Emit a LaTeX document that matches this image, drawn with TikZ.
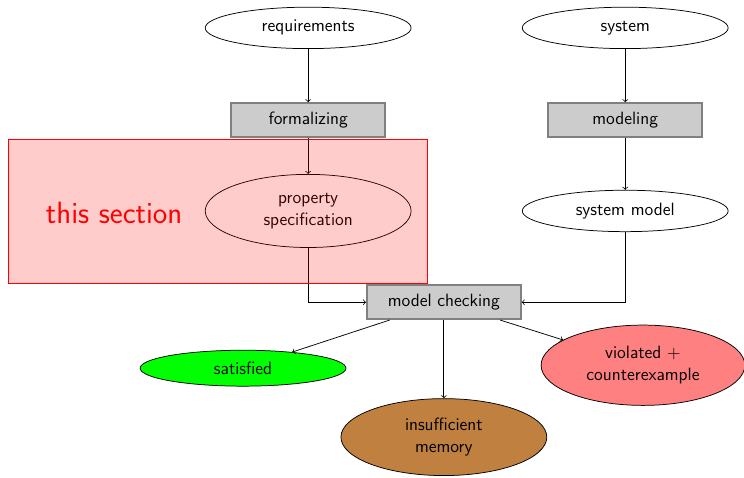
\documentclass[tikz,border=0pt]{standalone}
\usetikzlibrary{shapes.geometric}
\begin{document}
\begin{tikzpicture}[font=\sffamily\fontsize{12}{14.5}\selectfont, line width=0.5pt,
    oval/.style={draw, ellipse, align=center, minimum width=4.87cm, minimum height=0.98cm},
    stage/.style={draw=gray, line width=1.2pt, fill=black!20, minimum width=3.64cm, minimum height=0.8cm},
    flow/.style={->}]
    \useasboundingbox (0, 0) rectangle (17.6, -11.29);

    % inputs:
    \node[oval] (req) at (7.29, -0.66) {requirements};
    \node[oval] (sys) at (14.79, -0.66) {system};

    % processing steps:
    \node[stage] (formal) at (7.29, -2.84) {formalizing};
    \node[stage] (model) at (14.79, -2.84) {modeling};

    % intermediate artefacts:
    \node[oval, minimum height=1.73cm] (prop) at (7.29, -4.99) {property\\specification};
    \node[oval] (sysmodel) at (14.79, -4.99) {system model};

    \node[stage] (check) at (10.5, -7.15) {model checking};

    % outcomes:
    \node[oval, fill=green, minimum height=0.85cm] (sat) at (5.75, -8.71) {satisfied};
    \node[oval, fill=red!50, minimum width=4.82cm, minimum height=1.9cm] (viol) at (15.21, -8.64) {violated $+$\\counterexample};
    \node[oval, fill=brown, minimum height=1.82cm] (mem) at (10.5, -10.34) {insufficient\\memory};

    \draw[flow] (req) -- (formal);
    \draw[flow] (formal) -- (prop);
    \draw[flow] (sys) -- (model);
    \draw[flow] (model) -- (sysmodel);
    \draw[flow] (prop) |- (check);
    \draw[flow] (sysmodel) |- (check);
    \draw[flow] (check) -- (sat);
    \draw[flow] (check) -- (mem);
    \draw[flow] (check) -- (viol);

    % highlighted part:
    \draw[red, fill=red, fill opacity=0.2] (0.19, -3.29) rectangle (10.1, -6.7);
    \node[red, font=\sffamily\fontsize{20.7}{25}\selectfont] (sect) at (2.7, -5.04) {this section};
\end{tikzpicture}
\end{document}
